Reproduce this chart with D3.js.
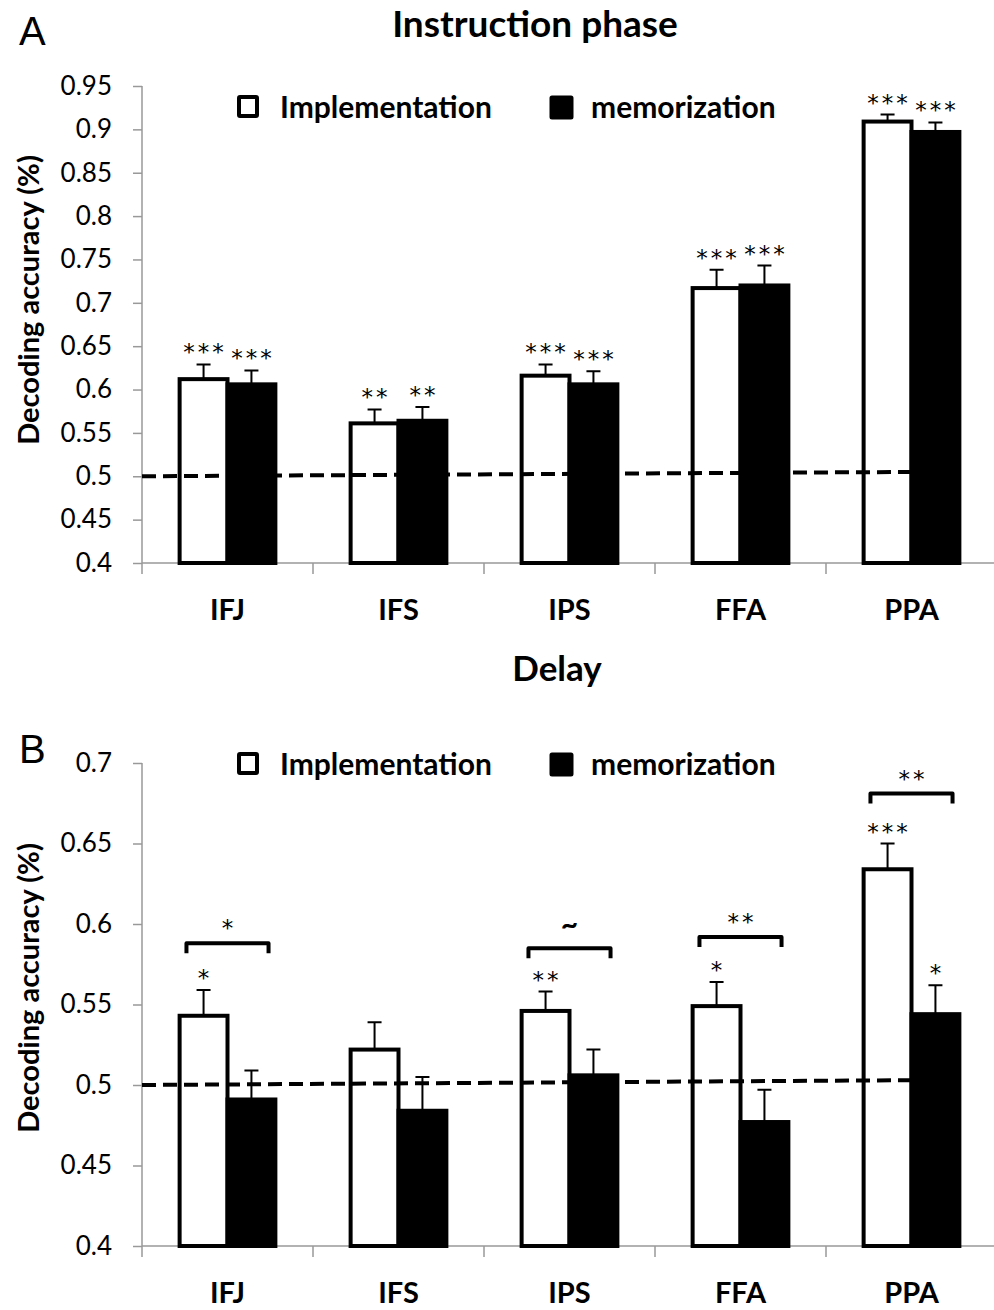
<!DOCTYPE html>
<html>
<head>
<meta charset="utf-8">
<script src="https://cdn.jsdelivr.net/npm/d3@7"></script>
<style>
  body { margin: 0; background: #fff; }
  text { font-family: Lato, "Open Sans", sans-serif; fill: #000; }
  .star { font-family: "DejaVu Sans", sans-serif; letter-spacing: 3px; }
</style>
</head>
<body>
<svg id="chart" width="994" height="1310"></svg>
<script>
// regions of interest
let categories = ['IFJ', 'IFS', 'IPS', 'FFA', 'PPA'];
let seriesNames = ['Implementation', 'memorization'];

// instruction phase
let instrImpl = [0.612, 0.561, 0.616, 0.717, 0.909];
let instrImplErr = [0.017, 0.016, 0.013, 0.021, 0.008];
let instrMem = [0.606, 0.564, 0.606, 0.720, 0.897];
let instrMemErr = [0.016, 0.016, 0.015, 0.023, 0.011];
let instrImplSig = ['***', '**', '***', '***', '***'];
let instrMemSig = ['***', '**', '***', '***', '***'];
let instrTicks = [0.4, 0.45, 0.5, 0.55, 0.6, 0.65, 0.7, 0.75, 0.8, 0.85, 0.9, 0.95];
let instrChance = [0.5, 0.505];

// delay phase
let delayImpl = [0.543, 0.522, 0.546, 0.549, 0.634];
let delayImplErr = [0.016, 0.017, 0.012, 0.015, 0.016];
let delayMem = [0.491, 0.484, 0.506, 0.477, 0.544];
let delayMemErr = [0.018, 0.021, 0.016, 0.020, 0.018];
let delayImplSig = ['*', '', '**', '*', '***'];
let delayMemSig = ['', '', '', '', '*'];
let delayDiffSig = ['*', '', '~', '**', '**'];
let delayDiffLevel = [0.588, null, 0.585, 0.592, 0.681];
let delayTicks = [0.4, 0.45, 0.5, 0.55, 0.6, 0.65, 0.7];
let delayChance = [0.5, 0.503];

let svg = d3.select('#chart');
let fmt = d3.format('.2~f');

function drawPanel(p){
  let g = svg.append('g');

  let sx = d3.scaleBand()
  .domain(categories)
  .range([142, 997]);

  let sy = d3.scaleLinear()
  .domain([p.ticks[0], p.ticks[p.ticks.length-1]])
  .range([p.bottom, p.top]);

  let base = p.ticks[0];
  let barW = sx.bandwidth()*0.28;
  let sub = d3.scaleBand().domain([0,1]).range([0, barW*2]);
  let off = (sx.bandwidth() - barW*2)/2;

  // y axis
  let yAxis = d3.axisLeft(sy)
  .tickValues(p.ticks)
  .tickFormat(fmt)
  .tickSize(9)
  .tickPadding(21);
  let ya = g.append('g')
  .attr('transform', 'translate(142,0)')
  .call(yAxis);
  ya.select('.domain').remove();
  ya.selectAll('line').attr('stroke', '#999').attr('stroke-width', 1.5);
  ya.selectAll('text')
  .style('font-size', '26px')
  .style('font-family', 'Lato, sans-serif');

  g.append('line')
  .attr('x1', 142).attr('x2', 142)
  .attr('y1', sy(p.ticks[p.ticks.length-1])).attr('y2', p.bottom+11)
  .attr('stroke', '#999').attr('stroke-width', 1.5);

  // x axis
  g.append('line')
  .attr('x1', 142).attr('x2', 997)
  .attr('y1', p.bottom).attr('y2', p.bottom)
  .attr('stroke', '#999').attr('stroke-width', 1.5);

  g.selectAll('.xtick')
  .data(categories.slice(1).concat(['_end']))
  .enter()
  .append('line')
  .attr('class', 'xtick')
  .attr('x1', d=>d=='_end' ? 997 : sx(d))
  .attr('x2', d=>d=='_end' ? 997 : sx(d))
  .attr('y1', p.bottom).attr('y2', p.bottom+11)
  .attr('stroke', '#999').attr('stroke-width', 1.5);

  g.selectAll('.xlabel')
  .data(categories)
  .enter()
  .append('text')
  .attr('class', 'xlabel')
  .attr('x', d=>sx(d)+sx.bandwidth()/2)
  .attr('y', p.bottom+57)
  .attr('text-anchor', 'middle')
  .style('font-size', '29px')
  .style('font-weight', 'bold')
  .text(d=>d);

  // bars
  let series = [
    {vals: p.impl, err: p.implErr, sig: p.implSig, fill: '#fff'},
    {vals: p.mem, err: p.memErr, sig: p.memSig, fill: '#000'}
  ];

  series.forEach((s, si)=>{
    let cx = (i)=>sx(categories[i]) + off + sub(si) + barW/2;

    g.selectAll('.bar'+si)
    .data(s.vals)
    .enter()
    .append('rect')
    .attr('class', 'bar'+si)
    .attr('x', (d,i)=>cx(i)-barW/2)
    .attr('y', d=>sy(d))
    .attr('width', barW)
    .attr('height', d=>sy(base)-sy(d))
    .attr('fill', s.fill)
    .attr('stroke', '#000')
    .attr('stroke-width', 4);

    g.selectAll('.err'+si)
    .data(s.vals)
    .enter()
    .append('path')
    .attr('class', 'err'+si)
    .attr('d', (d,i)=>{
      let x = cx(i), yt = sy(d + s.err[i]);
      return 'M'+x+','+sy(d)+'V'+yt+'M'+(x-7)+','+yt+'H'+(x+7);
    })
    .attr('fill', 'none')
    .attr('stroke', '#000')
    .attr('stroke-width', 2);

    // letter-spacing adds a trailing gap, so nudge right by half of it
    g.selectAll('.sig'+si)
    .data(s.sig)
    .enter()
    .append('text')
    .attr('class', 'sig'+si+' star')
    .attr('x', (d,i)=>cx(i)+1.5)
    .attr('y', (d,i)=>sy(s.vals[i] + s.err[i]) - 4)
    .attr('text-anchor', 'middle')
    .style('font-size', '23px')
    .text(d=>d);
  });

  // chance level
  let last = categories[categories.length-1];
  g.append('line')
  .attr('x1', 142)
  .attr('y1', sy(p.chance[0]))
  .attr('x2', sx(last) + sx.bandwidth()/2)
  .attr('y2', sy(p.chance[1]))
  .attr('stroke', '#000')
  .attr('stroke-width', 4)
  .attr('stroke-dasharray', '14,7');

  // brackets between conditions
  if(p.diffSig){
    p.diffSig.forEach((lab, i)=>{
      if(!lab) return;
      let c = sx(categories[i]) + sx.bandwidth()/2;
      let y = sy(p.diffLevel[i]);
      let hw = sx.bandwidth()*0.24;
      g.append('path')
      .attr('d', 'M'+(c-hw)+','+(y+10)+'V'+y+'H'+(c+hw)+'V'+(y+10))
      .attr('fill', 'none')
      .attr('stroke', '#000')
      .attr('stroke-width', 4)
      .attr('stroke-linejoin', 'round');
      let isTilde = lab=='~';
      g.append('text')
      .attr('class', isTilde ? '' : 'star')
      .attr('x', isTilde ? c : c+1.5)
      .attr('y', isTilde ? y-13 : y-7)
      .attr('text-anchor', 'middle')
      .style('font-size', isTilde ? '30px' : '23px')
      .style('font-weight', isTilde ? 'bold' : 'normal')
      .text(lab);
    });
  }

  // legend
  let leg = g.append('g');
  leg.append('rect')
  .attr('x', 239).attr('y', p.legendY-21)
  .attr('width', 18).attr('height', 19)
  .attr('fill', '#fff').attr('stroke', '#000').attr('stroke-width', 4)
  .attr('rx', 1);
  leg.append('text')
  .attr('x', 280).attr('y', p.legendY)
  .style('font-size', '30px').style('font-weight', 'bold')
  .text(seriesNames[0]);
  leg.append('rect')
  .attr('x', 551).attr('y', p.legendY-21)
  .attr('width', 21).attr('height', 21)
  .attr('fill', '#000').attr('stroke', '#000').attr('stroke-width', 3)
  .attr('rx', 1);
  leg.append('text')
  .attr('x', 591).attr('y', p.legendY)
  .style('font-size', '30px').style('font-weight', 'bold')
  .text(seriesNames[1]);

  // y label
  g.append('text')
  .attr('transform', 'translate(39,'+p.labelY+') rotate(-90)')
  .attr('text-anchor', 'middle')
  .style('font-size', '29px')
  .style('font-weight', 'bold')
  .text('Decoding accuracy (%)');

  // panel letter
  g.append('text')
  .attr('x', 19).attr('y', p.letterY)
  .style('font-family', '"Liberation Sans", Arial, sans-serif')
  .style('font-size', '40px')
  .text(p.letter);

  // panel title
  g.append('text')
  .attr('x', p.titleX).attr('y', p.titleY)
  .attr('text-anchor', 'middle')
  .style('font-size', p.titleSize)
  .style('font-weight', 'bold')
  .text(p.title);
}

drawPanel({
  ticks: instrTicks, top: 86, bottom: 563,
  impl: instrImpl, implErr: instrImplErr, implSig: instrImplSig,
  mem: instrMem, memErr: instrMemErr, memSig: instrMemSig,
  chance: instrChance,
  legendY: 118, labelY: 300, letter: 'A', letterY: 45,
  title: 'Instruction phase', titleX: 535, titleY: 37, titleSize: '37px'
});

drawPanel({
  ticks: delayTicks, top: 763, bottom: 1246,
  impl: delayImpl, implErr: delayImplErr, implSig: delayImplSig,
  mem: delayMem, memErr: delayMemErr, memSig: delayMemSig,
  diffSig: delayDiffSig, diffLevel: delayDiffLevel,
  chance: delayChance,
  legendY: 775, labelY: 988, letter: 'B', letterY: 763,
  title: 'Delay', titleX: 557, titleY: 681, titleSize: '35px'
});
</script>
</body>
</html>
